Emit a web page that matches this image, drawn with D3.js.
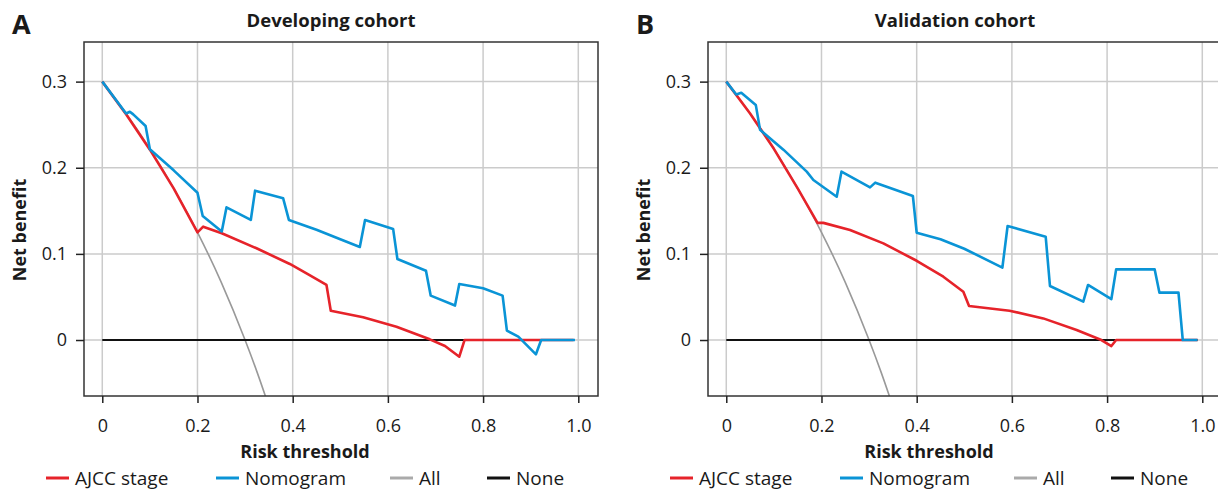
<!DOCTYPE html>
<html lang="en">
<head>
    <meta charset="UTF-8">
    <title>Decision curves</title>
    <script src="https://d3js.org/d3.v7.min.js"></script>
    <style>
        body { margin: 0; background: #fff; }
        text { font-family: "Open Sans", "Noto Sans", sans-serif; fill: #1a1a1a; }
        .grid line { stroke: #cbcbcb; stroke-width: 1.5px; }
        .frame { fill: none; stroke: #333; stroke-width: 1.5px; }
    </style>
</head>
<body>
    <div id="chart"></div>

    <script>
        // tick values
        const xTicks = [0, 0.2, 0.4, 0.6, 0.8, 1.0];
        const xTickLabels = ['0', '0.2', '0.4', '0.6', '0.8', '1.0'];
        const yTicks = [0, 0.1, 0.2, 0.3];
        const yTickLabels = ['0', '0.1', '0.2', '0.3'];

        // treat-all curve (same prevalence in both cohorts)
        const allThr = [0, 0.05, 0.10, 0.15, 0.20, 0.25, 0.30, 0.325, 0.35];
        const allNB = [0.300, 0.263, 0.222, 0.176, 0.125, 0.067, 0.000, -0.037, -0.077];

        // treat-none
        const noneThr = [0, 0.99];
        const noneNB = [0, 0];

        // A: developing cohort
        const nomoThrA = [0, 0.05, 0.058, 0.065, 0.091, 0.10, 0.15, 0.20, 0.211, 0.251, 0.261, 0.312, 0.321, 0.380, 0.392, 0.45, 0.50, 0.541, 0.552, 0.611, 0.620, 0.680, 0.690, 0.741, 0.750, 0.80, 0.841, 0.850, 0.874, 0.911, 0.922, 0.993];
        const nomoNBA = [0.300, 0.263, 0.265, 0.262, 0.2485, 0.2215, 0.197, 0.171, 0.144, 0.126, 0.154, 0.1394, 0.1734, 0.1645, 0.1394, 0.128, 0.117, 0.108, 0.1394, 0.129, 0.094, 0.0805, 0.0515, 0.040, 0.065, 0.060, 0.0515, 0.0108, 0.0039, -0.0166, 0, 0];
        const ajccThrA = [0, 0.05, 0.10, 0.15, 0.20, 0.212, 0.251, 0.324, 0.394, 0.43, 0.471, 0.480, 0.548, 0.618, 0.688, 0.72, 0.75, 0.761, 0.99];
        const ajccNBA = [0.300, 0.262, 0.221, 0.176, 0.125, 0.1316, 0.124, 0.1065, 0.0883, 0.077, 0.0639, 0.034, 0.0264, 0.0155, 0.0008, -0.007, -0.0194, 0, 0];

        // B: validation cohort
        const nomoThrB = [0, 0.021, 0.0315, 0.062, 0.071, 0.12, 0.169, 0.183, 0.232, 0.242, 0.302, 0.313, 0.392, 0.40, 0.45, 0.50, 0.580, 0.591, 0.671, 0.680, 0.750, 0.760, 0.809, 0.819, 0.90, 0.91, 0.95, 0.959, 0.99];
        const nomoNBB = [0.300, 0.285, 0.287, 0.273, 0.244, 0.221, 0.1955, 0.1858, 0.1664, 0.1955, 0.1772, 0.1827, 0.1672, 0.1246, 0.117, 0.106, 0.084, 0.1324, 0.120, 0.0627, 0.0445, 0.0639, 0.0476, 0.082, 0.082, 0.055, 0.055, 0, 0];
        const ajccThrB = [0, 0.05, 0.10, 0.15, 0.1916, 0.204, 0.26, 0.33, 0.40, 0.456, 0.498, 0.51, 0.595, 0.666, 0.736, 0.788, 0.809, 0.819, 0.99];
        const ajccNBB = [0.300, 0.263, 0.222, 0.176, 0.136, 0.136, 0.1277, 0.1122, 0.092, 0.0735, 0.0561, 0.0395, 0.034, 0.0251, 0.0116, 0, -0.007, 0, 0];

        const legendNames = ['AJCC stage', 'Nomogram', 'All', 'None'];
        const colors = { ajcc: '#e6232a', nomo: '#0a94d6', all: '#999999', none: '#111111' };

        const width = 1218, height = 489;
        const svg = d3.select('#chart').append('svg')
            .attr('width', width)
            .attr('height', height);

        function zip(xs, ys) { return xs.map((x, i) => [x, ys[i]]); }

        function drawPanel(id, ox, letter, title) {
            const left = 84, right = 598, top = 42, bottom = 396;
            const g = svg.append('g').attr('transform', `translate(${ox},0)`);

            const x = d3.scaleLinear().domain([-0.0384, 1.0414]).range([left, right]);
            const y = d3.scaleLinear().domain([-0.065, 0.346]).range([bottom, top]);

            // grid
            const grid = g.append('g').attr('class', 'grid');
            grid.selectAll('.vx').data(xTicks).enter().append('line')
                .attr('x1', d => x(d)).attr('x2', d => x(d))
                .attr('y1', top).attr('y2', bottom);
            grid.selectAll('.hy').data(yTicks).enter().append('line')
                .attr('x1', left).attr('x2', right)
                .attr('y1', d => y(d)).attr('y2', d => y(d));

            svg.append('clipPath').attr('id', 'clip' + id)
                .append('rect')
                .attr('x', left).attr('y', top)
                .attr('width', right - left).attr('height', bottom - top);

            const line = d3.line().x(d => x(d[0])).y(d => y(d[1]));
            const smooth = d3.line().curve(d3.curveMonotoneX).x(d => x(d[0])).y(d => y(d[1]));
            const plot = g.append('g').attr('clip-path', `url(#clip${id})`);

            const series = [
                { pts: zip(allThr, allNB), c: colors.all, w: 1.6, f: smooth },
                { pts: zip(noneThr, noneNB), c: colors.none, w: 2, f: line },
                { pts: id === 'A' ? zip(ajccThrA, ajccNBA) : zip(ajccThrB, ajccNBB), c: colors.ajcc, w: 2.6, f: line },
                { pts: id === 'A' ? zip(nomoThrA, nomoNBA) : zip(nomoThrB, nomoNBB), c: colors.nomo, w: 2.6, f: line }
            ];
            plot.selectAll('path').data(series).enter().append('path')
                .attr('d', d => d.f(d.pts))
                .attr('fill', 'none')
                .attr('stroke', d => d.c)
                .attr('stroke-width', d => d.w)
                .attr('stroke-linejoin', 'round');

            g.append('rect').attr('class', 'frame')
                .attr('x', left).attr('y', top)
                .attr('width', right - left).attr('height', bottom - top);

            // axes
            const xAxis = d3.axisBottom(x).tickValues(xTicks)
                .tickFormat((d, i) => xTickLabels[i]).tickSize(7).tickPadding(16);
            const yAxis = d3.axisLeft(y).tickValues(yTicks)
                .tickFormat((d, i) => yTickLabels[i]).tickSize(8).tickPadding(9);
            const xa = g.append('g').attr('transform', `translate(0,${bottom})`).call(xAxis);
            const ya = g.append('g').attr('transform', `translate(${left},0)`).call(yAxis);
            [xa, ya].forEach(a => {
                a.select('.domain').remove();
                a.selectAll('.tick line').attr('stroke', '#222').attr('stroke-width', 1.5);
                a.selectAll('.tick text').attr('font-size', 18).attr('fill', '#1a1a1a')
                    .style('font-family', '"Open Sans", sans-serif');
            });

            g.append('text').attr('x', 12).attr('y', 34)
                .attr('font-size', 27).attr('font-weight', 'bold').text(letter);
            g.append('text').attr('x', 331).attr('y', 27)
                .attr('text-anchor', 'middle').attr('font-size', 18.5).attr('font-weight', 'bold')
                .text(title);
            g.append('text').attr('x', 305).attr('y', 458)
                .attr('text-anchor', 'middle').attr('font-size', 18).attr('font-weight', 'bold')
                .text('Risk threshold');
            g.append('text')
                .attr('transform', 'translate(26,230) rotate(-90)')
                .attr('text-anchor', 'middle').attr('font-size', 18).attr('font-weight', 'bold')
                .text('Net benefit');

            // legend
            const legX = [46, 216, 390, 487];
            const legC = [colors.ajcc, colors.nomo, '#aaaaaa', colors.none];
            const leg = g.append('g').selectAll('g').data(legendNames).enter().append('g')
                .attr('transform', (d, i) => `translate(${legX[i]},478)`);
            leg.append('line').attr('x1', 0).attr('x2', 23).attr('y1', 0).attr('y2', 0)
                .attr('stroke', (d, i) => legC[i]).attr('stroke-width', 3);
            leg.append('text').attr('x', 29).attr('y', 6.5)
                .attr('font-size', 19).text(d => d);
        }

        drawPanel('A', 0, 'A', 'Developing cohort');
        drawPanel('B', 624, 'B', 'Validation cohort');
    </script>
</body>
</html>
